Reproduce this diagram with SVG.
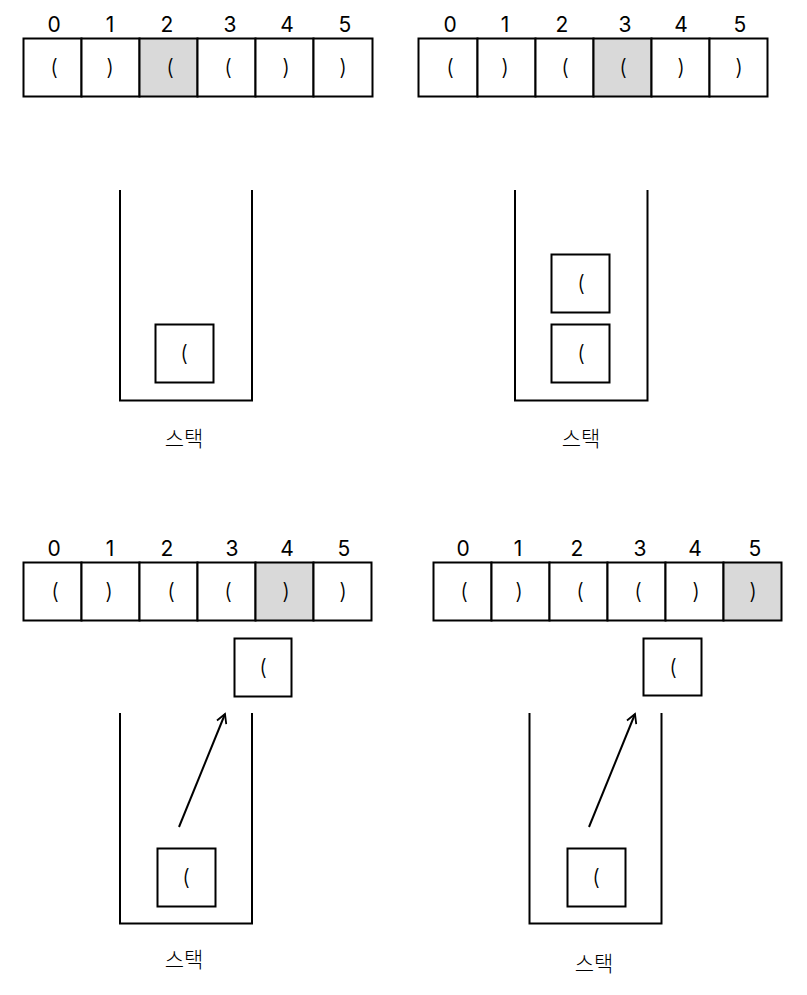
<svg xmlns="http://www.w3.org/2000/svg" width="807" height="995" viewBox="0 0 807 995">
<defs>
<style>
.cell{fill:#fff;stroke:#000;stroke-width:2}
.hl{fill:#d9d9d9;stroke:#000;stroke-width:2}
.wall{fill:none;stroke:#000;stroke-width:2}
.idx{font-family:Inter,"Noto Sans",sans-serif;font-size:21px;text-anchor:middle;fill:#000}
.p{font-family:Inter,"Noto Sans",sans-serif;font-size:22px;font-weight:300;text-anchor:middle;fill:#000}
.lbl{font-family:"Noto Sans CJK KR",sans-serif;font-size:21px;font-weight:300;text-anchor:middle;fill:#000}
.arr{fill:none;stroke:#000;stroke-width:2}
</style>
<marker id="ah" viewBox="0 0 12 12" refX="10" refY="6" markerWidth="12" markerHeight="12" markerUnits="userSpaceOnUse" orient="auto">
<path d="M1,1 L10,6 L1,11" fill="none" stroke="#000" stroke-width="1.8"/>
</marker>
</defs>
<rect width="807" height="995" fill="#fff"/>

<!-- Panel 1 -->
<g id="array1">
<text class="idx" x="54" y="32">0</text><text class="idx" x="110" y="32">1</text><text class="idx" x="167" y="32">2</text><text class="idx" x="230" y="32">3</text><text class="idx" x="287" y="32">4</text><text class="idx" x="345" y="32">5</text>
<rect class="cell" x="23.5" y="38.5" width="58" height="58"/>
<rect class="cell" x="81.5" y="38.5" width="58" height="58"/>
<rect class="hl" x="139.5" y="38.5" width="58" height="58"/>
<rect class="cell" x="197.5" y="38.5" width="58" height="58"/>
<rect class="cell" x="255.5" y="38.5" width="58" height="58"/>
<rect class="cell" x="313.5" y="38.5" width="59" height="58"/>
<text class="p" x="54" y="75">(</text><text class="p" x="110" y="75">)</text><text class="p" x="170" y="75">(</text><text class="p" x="228" y="75">(</text><text class="p" x="286" y="75">)</text><text class="p" x="343" y="75">)</text>
</g>
<g id="stack1">
<path class="wall" d="M120,190 V400.5 H252 V190"/>
<text class="lbl" x="184" y="446">스택</text>
</g>
<g id="item1a">
<rect class="cell" x="155.5" y="324.5" width="58" height="58"/>
<text class="p" x="184" y="361">(</text>
</g>

<!-- Panel 2 -->
<g id="array2">
<text class="idx" x="450" y="32">0</text><text class="idx" x="505" y="32">1</text><text class="idx" x="562" y="32">2</text><text class="idx" x="625" y="32">3</text><text class="idx" x="681" y="32">4</text><text class="idx" x="740" y="32">5</text>
<rect class="cell" x="418.5" y="38.5" width="59" height="58"/>
<rect class="cell" x="477.5" y="38.5" width="58" height="58"/>
<rect class="cell" x="535.5" y="38.5" width="58" height="58"/>
<rect class="hl" x="593.5" y="38.5" width="58" height="58"/>
<rect class="cell" x="651.5" y="38.5" width="58" height="58"/>
<rect class="cell" x="709.5" y="38.5" width="58" height="58"/>
<text class="p" x="450" y="75">(</text><text class="p" x="505" y="75">)</text><text class="p" x="565" y="75">(</text><text class="p" x="623" y="75">(</text><text class="p" x="681" y="75">)</text><text class="p" x="739" y="75">)</text>
</g>
<g id="stack2">
<path class="wall" d="M515,190 V400.5 H647.5 V190"/>
<text class="lbl" x="581" y="446">스택</text>
</g>
<g id="item2a">
<rect class="cell" x="551.5" y="324.5" width="58" height="58"/>
<text class="p" x="581" y="361">(</text>
</g>
<g id="item2b">
<rect class="cell" x="551.5" y="254.5" width="58" height="58"/>
<text class="p" x="581" y="291">(</text>
</g>

<!-- Panel 3 -->
<g id="array3">
<text class="idx" x="54" y="556">0</text><text class="idx" x="110" y="556">1</text><text class="idx" x="167" y="556">2</text><text class="idx" x="232" y="556">3</text><text class="idx" x="287" y="556">4</text><text class="idx" x="344" y="556">5</text>
<rect class="cell" x="23.5" y="562.5" width="58" height="58"/>
<rect class="cell" x="81.5" y="562.5" width="58" height="58"/>
<rect class="cell" x="139.5" y="562.5" width="58" height="58"/>
<rect class="cell" x="197.5" y="562.5" width="58" height="58"/>
<rect class="hl" x="255.5" y="562.5" width="58" height="58"/>
<rect class="cell" x="313.5" y="562.5" width="58" height="58"/>
<text class="p" x="55" y="599">(</text><text class="p" x="109" y="599">)</text><text class="p" x="171" y="599">(</text><text class="p" x="228" y="599">(</text><text class="p" x="286" y="599">)</text><text class="p" x="343" y="599">)</text>
</g>
<g id="popped3">
<rect class="cell" x="234.5" y="638.5" width="57" height="58"/>
<text class="p" x="263" y="675">(</text>
</g>
<g id="stack3">
<path class="wall" d="M120,713 V923.5 H252 V713"/>
<text class="lbl" x="184" y="967">스택</text>
</g>
<g id="item3a">
<rect class="cell" x="157.5" y="848.5" width="58" height="58"/>
<text class="p" x="186" y="885">(</text>
</g>

<!-- Panel 4 -->
<g id="array4">
<text class="idx" x="463" y="556">0</text><text class="idx" x="518" y="556">1</text><text class="idx" x="577" y="556">2</text><text class="idx" x="640" y="556">3</text><text class="idx" x="695" y="556">4</text><text class="idx" x="755" y="556">5</text>
<rect class="cell" x="433.5" y="562.5" width="58" height="58"/>
<rect class="cell" x="491.5" y="562.5" width="58" height="58"/>
<rect class="cell" x="549.5" y="562.5" width="58" height="58"/>
<rect class="cell" x="607.5" y="562.5" width="58" height="58"/>
<rect class="cell" x="665.5" y="562.5" width="58" height="58"/>
<rect class="hl" x="723.5" y="562.5" width="58" height="58"/>
<text class="p" x="464" y="599">(</text><text class="p" x="519" y="599">)</text><text class="p" x="580" y="599">(</text><text class="p" x="638" y="599">(</text><text class="p" x="696" y="599">)</text><text class="p" x="753" y="599">)</text>
</g>
<g id="popped4">
<rect class="cell" x="643.5" y="638.5" width="58" height="57"/>
<text class="p" x="673" y="675">(</text>
</g>
<g id="stack4">
<path class="wall" d="M529.5,713 V923.5 H661.5 V713"/>
<text class="lbl" x="594" y="971">스택</text>
</g>
<g id="item4a">
<rect class="cell" x="567.5" y="848.5" width="58" height="58"/>
<text class="p" x="596" y="885">(</text>
</g>

<g id="connectors">
<line class="arr" x1="179" y1="827" x2="225" y2="714" marker-end="url(#ah)"/>
<line class="arr" x1="589" y1="827" x2="635" y2="714" marker-end="url(#ah)"/>
</g>
</svg>
